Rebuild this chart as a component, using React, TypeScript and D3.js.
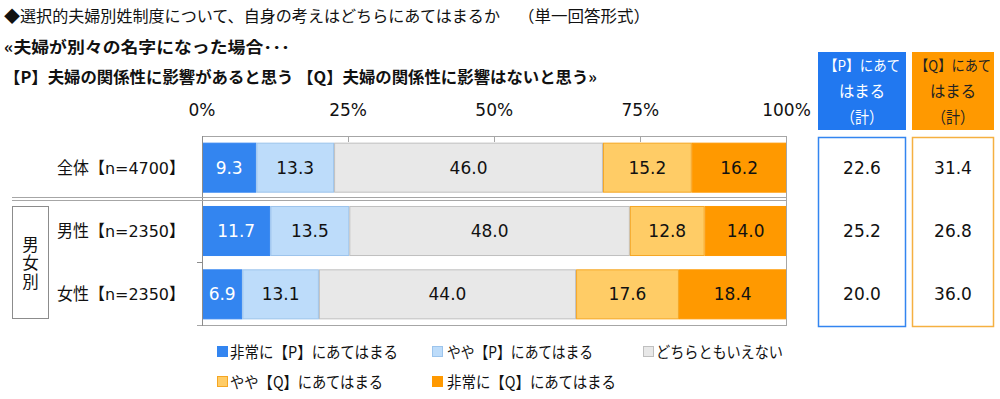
import React from "react";
import * as d3 from "d3";

const categories = ["全体【n=4700】", "男性【n=2350】", "女性【n=2350】"];
const seriesNames = [
  "非常に【P】にあてはまる",
  "やや【P】にあてはまる",
  "どちらともいえない",
  "やや【Q】にあてはまる",
  "非常に【Q】にあてはまる",
];
const veryP = [9.3, 11.7, 6.9];
const someP = [13.3, 13.5, 13.1];
const neither = [46.0, 48.0, 44.0];
const someQ = [15.2, 12.8, 17.6];
const veryQ = [16.2, 14.0, 18.4];
const totalP = [22.6, 25.2, 20.0];
const totalQ = [31.4, 26.8, 36.0];
const ticks = [0, 25, 50, 75, 100];

const fills = ["#3385F0", "#BDDCFA", "#E8E8E8", "#FFCC66", "#FF9900"];
const strokes = ["#3385F0", "#9CC4EC", "#BFBFBF", "#F5A623", "#FF9900"];
const labelColors = ["#ffffff", "#111111", "#111111", "#111111", "#111111"];

const JP = "'Noto Sans CJK JP', 'Noto Sans', sans-serif";
const NUM = "'DejaVu Sans', 'Noto Sans CJK JP', sans-serif";

export default function App() {
  const W = 1000;
  const H = 399;
  const x = d3.scaleLinear().domain([0, 100]).range([202, 786.5]);
  const y = d3
    .scaleBand<string>()
    .domain(categories)
    .range([136, 326])
    .paddingInner(0.21)
    .paddingOuter(0.105);

  const table = categories.map((c, i) => ({
    cat: c,
    s0: veryP[i],
    s1: someP[i],
    s2: neither[i],
    s3: someQ[i],
    s4: veryQ[i],
  }));
  const keys = ["s0", "s1", "s2", "s3", "s4"];
  const stacked = d3.stack<any>().keys(keys)(table);

  const frame = "#a6a6a6";

  const legendItems = [
    { i: 0, sx: 217, tx: 230, cy: 352, w: 168 },
    { i: 1, sx: 432, tx: 447, cy: 352, w: 146 },
    { i: 2, sx: 643, tx: 656, cy: 352, w: 127 },
    { i: 3, sx: 217, tx: 230, cy: 382, w: 153 },
    { i: 4, sx: 432, tx: 447, cy: 382, w: 169 },
  ];

  return (
    <svg width={W} height={H} style={{ position: "absolute", left: 0, top: 0, background: "#fff" }}>
      <rect x={0} y={0} width={W} height={H} fill="#fff" />
      {/* Titles */}
      <text x={4} y={22} fontFamily={JP} fontSize={16} fill="#111" textLength={496} lengthAdjust="spacingAndGlyphs">
        ◆選択的夫婦別姓制度について、自身の考えはどちらにあてはまるか
      </text>
      <text x={518} y={22} fontFamily={JP} fontSize={16} fill="#111" textLength={132} lengthAdjust="spacingAndGlyphs">
        （単一回答形式）
      </text>
      <text x={4} y={53} fontFamily={JP} fontSize={16} fontWeight="bold" fill="#111" textLength={286} lengthAdjust="spacingAndGlyphs">
        «夫婦が別々の名字になった場合･･･
      </text>
      <text x={4} y={83} fontFamily={JP} fontSize={16} fontWeight="bold" fill="#111" textLength={593} lengthAdjust="spacingAndGlyphs">
        【P】夫婦の関係性に影響があると思う 【Q】夫婦の関係性に影響はないと思う»
      </text>

      {/* Axis tick labels */}
      {ticks.map((t) => (
        <text key={t} x={x(t)} y={116} textAnchor="middle" fontFamily={NUM} fontSize={17} fill="#111">
          {t}%
        </text>
      ))}

      {/* Bars */}
      {stacked.map((layer, li) =>
        layer.map((d, ri) => {
          const x0 = x(d[0]);
          const x1 = x(d[1]);
          const yy = y(categories[ri])!;
          const bw = y.bandwidth();
          return (
            <g key={`${li}-${ri}`}>
              <rect x={x0 + 0.5} y={yy + 0.5} width={x1 - x0 - 1} height={bw - 1} fill={fills[li]} stroke={strokes[li]} strokeWidth={1} />
              <text x={(x0 + x1) / 2} y={yy + bw / 2 + 6} textAnchor="middle" fontFamily={NUM} fontSize={17} fill={labelColors[li]}>
                {(d[1] - d[0]).toFixed(1)}
              </text>
            </g>
          );
        })
      )}

      {/* Frame */}
      <line x1={202} x2={787} y1={136.5} y2={136.5} stroke={frame} />
      {[25, 50, 75].map((t) => (
        <line key={t} x1={Math.round(x(t)) + 0.5} x2={Math.round(x(t)) + 0.5} y1={136} y2={142} stroke={frame} />
      ))}
      <line x1={786.5} x2={786.5} y1={136} y2={326} stroke={frame} />
      <line x1={197} x2={787} y1={325.5} y2={325.5} stroke={frame} />
      <line x1={202.5} x2={202.5} y1={136} y2={326} stroke="#8c8c8c" />
      <line x1={197} x2={202} y1={262.5} y2={262.5} stroke="#8c8c8c" />
      {/* Separator double line */}
      <line x1={12} x2={787} y1={197.5} y2={197.5} stroke={frame} />
      <line x1={12} x2={787} y1={200.5} y2={200.5} stroke={frame} />

      {/* Group box */}
      <rect x={12.5} y={206.5} width={36} height={112} fill="#fff" stroke="#8c8c8c" />
      <text
        x={30.5}
        y={236}
        fontFamily={JP}
        fontSize={16.5}
        fill="#111"
        style={{ writingMode: "vertical-rl", letterSpacing: "2px" }}
      >
        男女別
      </text>

      {/* Row labels */}
      {categories.map((c) => (
        <text key={c} x={185} y={y(c)! + y.bandwidth() / 2 + 6} textAnchor="end" fontFamily={NUM} fontSize={16.5} fill="#111" textLength={128} lengthAdjust="spacingAndGlyphs">
          {c}
        </text>
      ))}

      {/* Right summary headers */}
      <rect x={818} y={52} width={88} height={78} fill="#2178F0" />
      <rect x={912} y={52} width={82} height={78} fill="#FF9900" />
      {[
        { cx: 862, col: "#ffffff", lines: ["【P】にあて", "はまる", "（計）"] },
        { cx: 953, col: "#222222", lines: ["【Q】にあて", "はまる", "（計）"] },
      ].map((h, hi) =>
        h.lines.map((l, li) => (
          <text key={`${hi}-${li}`} x={h.cx} y={71 + li * 26} textAnchor="middle" fontFamily={JP} fontSize={li === 0 ? 14.5 : 16} fill={h.col} textLength={li === 0 ? 76 : li === 1 ? 46 : 42} lengthAdjust="spacingAndGlyphs">
            {l}
          </text>
        ))
      )}
      <rect x={818.5} y={137.5} width={87} height={189} fill="none" stroke="#3385F0" strokeWidth={1.5} />
      <rect x={912.5} y={137.5} width={81} height={189} fill="none" stroke="#F5B041" strokeWidth={1.5} />
      {categories.map((c, i) => (
        <g key={c}>
          <text x={862} y={y(c)! + y.bandwidth() / 2 + 6} textAnchor="middle" fontFamily={NUM} fontSize={17} fill="#111">
            {totalP[i].toFixed(1)}
          </text>
          <text x={953} y={y(c)! + y.bandwidth() / 2 + 6} textAnchor="middle" fontFamily={NUM} fontSize={17} fill="#111">
            {totalQ[i].toFixed(1)}
          </text>
        </g>
      ))}

      {/* Legend */}
      {legendItems.map((it) => (
        <g key={it.i}>
          <rect x={it.sx + 0.5} y={it.cy - 5.5} width={10} height={10} fill={fills[it.i]} stroke={strokes[it.i]} />
          <text x={it.tx} y={it.cy + 6} fontFamily={JP} fontSize={16} fill="#111" textLength={it.w} lengthAdjust="spacingAndGlyphs">
            {seriesNames[it.i]}
          </text>
        </g>
      ))}
    </svg>
  );
}
